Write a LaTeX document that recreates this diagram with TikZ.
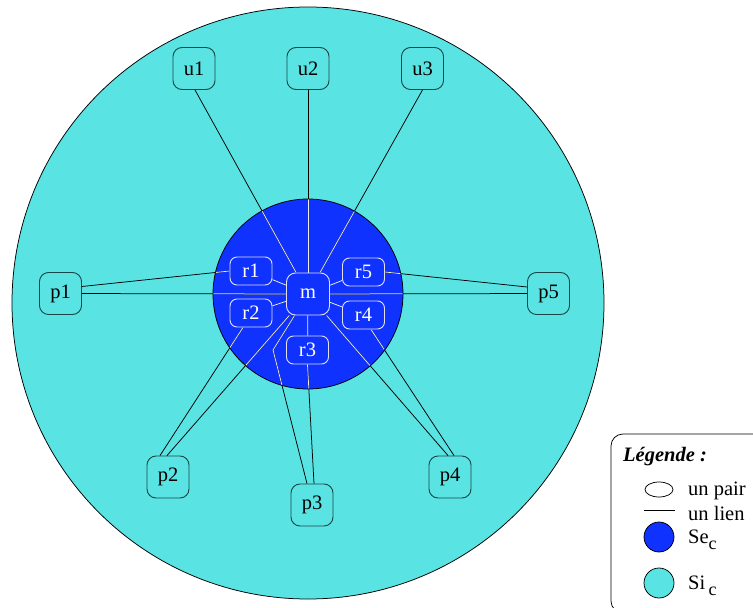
\documentclass[tikz,border=0pt]{standalone}
\usepackage{fontspec}
\setmainfont{Liberation Serif}
\usetikzlibrary{calc,backgrounds,shapes.geometric}
\definecolor{bgcyan}{RGB}{90,227,227}
\definecolor{inblue}{RGB}{15,50,255}
\definecolor{outborder}{RGB}{25,70,70}
\definecolor{inborder}{RGB}{225,225,245}
\definecolor{inline}{RGB}{240,240,225}
\newcommand{\subc}{\raisebox{-6pt}{\fontsize{18}{18}\selectfont c}}
\begin{document}
\begin{tikzpicture}[x=1pt,y=-1pt,
  every node/.style={font=\fontsize{20.5}{22}\selectfont},
  outnode/.style={draw=outborder,line width=0.9pt,fill=bgcyan,rounded corners=9pt,
    minimum width=42pt,minimum height=42pt,inner sep=0pt},
  innode/.style={draw=inborder,line width=0.9pt,fill=inblue,text=white,rounded corners=7pt,
    minimum width=42pt,minimum height=28pt,inner sep=0pt},
  mnode/.style={innode,minimum width=43pt,minimum height=42pt,rounded corners=9pt},
  link/.style={draw=black,line width=0.75pt},
  wlink/.style={draw=inline,line width=0.75pt},
  edgest/.style={link},
  legtext/.style={anchor=base west,inner sep=0pt}]
\useasboundingbox (0,0) rectangle (753,608);
\clip (0,0) rectangle (753,608);
% nodes
\node[outnode] (u1) at (194,68.5) {u1};
\node[outnode] (u2) at (308,68.5) {u2};
\node[outnode] (u3) at (422.5,68.5) {u3};
\node[outnode] (p1) at (60.5,293.5) {p1};
\node[outnode] (p5) at (548.5,293.5) {p5};
\node[outnode] (p2) at (168,477) {p2};
\node[outnode] (p3) at (312,505) {p3};
\node[outnode] (p4) at (450,477) {p4};
\node[mnode] (m) at (308,294) {m};
\node[innode] (r1) at (251,271) {r1};
\node[innode] (r2) at (251,313) {r2};
\node[innode] (r5) at (363.5,272) {r5};
\node[innode] (r4) at (363.5,315) {r4};
\node[innode] (r3) at (307.5,350) {r3};
\coordinate (k3) at (273,350);
% backgrounds
\begin{scope}[on background layer]
  \draw[fill=bgcyan,line width=0.75pt] (308,303) circle[radius=296];
  \draw[fill=inblue,line width=0.75pt] (308,294) circle[radius=95];
\end{scope}
% edges
\newcommand{\alledges}{%
  \draw[edgest] ($(u1.south)+(1,0)$) -- (m);
  \draw[edgest] (u2) -- (m);
  \draw[edgest] (u3.south) -- (m);
  \draw[edgest] ($(p1.east)+(0,-7)$) -- (r1.west);
  \draw[edgest] (p1) -- (m);
  \draw[edgest] ($(p5.west)+(0,-6.5)$) -- (r5.east);
  \draw[edgest] (p5) -- (m);
  \draw[edgest] ($(p2.north)+(-8,0)$) -- ($(r2.south)+(-8,0)$);
  \draw[edgest] ($(p2.north)+(-1,0)$) -- (m);
  \draw[edgest] ($(p4.north)+(-2,0)$) -- (m);
  \draw[edgest] ($(p4.north)+(4,0)$) -- ($(r4.south)+(7.5,0)$);
  \draw[edgest] ($(p3.north)+(2,0)$) -- (r3.south);
  \draw[edgest] (m) -- (k3) -- ($(p3.north)+(-5,0)$);
}
\alledges
\begin{scope}[edgest/.style={wlink}]
  \clip (308,294) circle[radius=94.6];
  \alledges
\end{scope}
\draw[wlink] (r1) -- (m);
\draw[wlink] (r2) -- (m);
\draw[wlink] (r5) -- (m);
\draw[wlink] (r4) -- (m);
\draw[wlink] (r3) -- (m);
% legend
\draw[line width=0.75pt,fill=white,rounded corners=12pt] (611,434) rectangle (775,613);
\node[legtext,font=\fontsize{20.5}{22}\selectfont\bfseries\itshape] (lt) at (623,461) {Légende :};
\node[draw=black,line width=0.75pt,fill=white,ellipse,minimum width=28pt,minimum height=15pt,inner sep=0pt] (le) at (659,489.5) {};
\node[legtext] (lp) at (688,495) {un pair};
\coordinate (la) at (644,510);
\coordinate (lb) at (675,510);
\draw[line width=0.75pt] (la) -- (lb);
\node[legtext] (ll) at (688,520) {un lien};
\node[draw=black,line width=0.75pt,fill=inblue,circle,minimum size=30pt,inner sep=0pt] (lc1) at (659,537) {};
\node[legtext] (ls1) at (688,543) {Se\subc};
\node[draw=black,line width=0.75pt,fill=bgcyan,circle,minimum size=30pt,inner sep=0pt] (lc2) at (659,583) {};
\node[legtext] (ls2) at (688,589) {Si\,\subc};
\end{tikzpicture}
\end{document}
